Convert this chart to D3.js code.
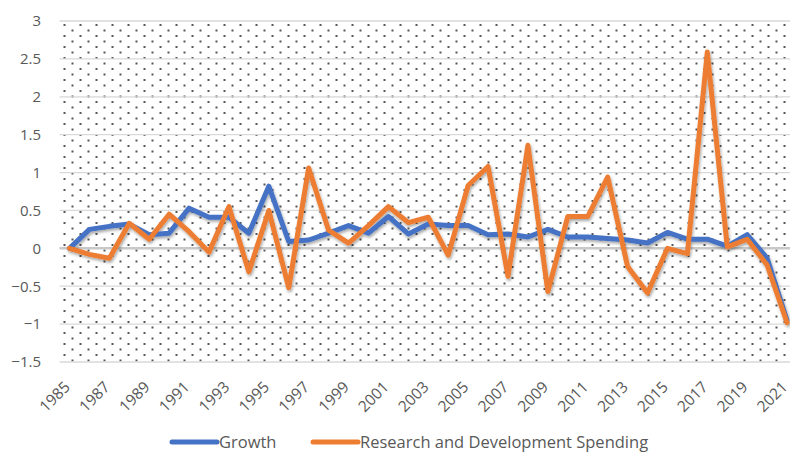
<!DOCTYPE html>
<html>
<head>
<meta charset="utf-8">
<script src="https://cdn.jsdelivr.net/npm/d3@7"></script>
<style>
  body { margin: 0; background: #fff; }
  svg { display: block; font-family: "Open Sans", sans-serif; }
</style>
</head>
<body>
<svg id="chart" width="790" height="459"></svg>
<script>
"use strict";

const years = d3.range(1985, 2022);
const growth = [0, 0.25, 0.29, 0.32, 0.18, 0.2, 0.53, 0.41, 0.41, 0.2,
    0.82, 0.09, 0.11, 0.2, 0.3, 0.2, 0.42, 0.19, 0.32, 0.3,
    0.3, 0.18, 0.19, 0.15, 0.25, 0.15, 0.15, 0.13, 0.11, 0.07,
    0.21, 0.12, 0.12, 0.03, 0.18, -0.13, -0.95];
const rdSpending = [0, -0.08, -0.13, 0.33, 0.12, 0.45, 0.22, -0.05, 0.55, -0.31,
    0.5, -0.52, 1.06, 0.24, 0.07, 0.3, 0.55, 0.34, 0.41, -0.09,
    0.83, 1.08, -0.37, 1.36, -0.57, 0.42, 0.42, 0.94, -0.24, -0.59,
    0, -0.07, 2.59, 0.02, 0.12, -0.22, -0.98];
const yTicks = [-1.5, -1, -0.5, 0, 0.5, 1, 1.5, 2, 2.5, 3];
const seriesNames = ["Growth", "Research and Development Spending"];
const colors = ["#4472C4", "#ED7D31"];

const svg = d3.select("#chart");
const plotLeft = 59.5, plotRight = 797, plotTop = 21, plotBottom = 362;

const x = d3.scalePoint().domain(years).range([plotLeft, plotRight]).padding(0.5);
const y = d3.scaleLinear().domain([-1.5, 3]).range([plotBottom, plotTop]);

const defs = svg.append("defs");
// dotted fill of the plot area
const pat = defs.append("pattern")
    .attr("id", "dots")
    .attr("patternUnits", "userSpaceOnUse")
    .attr("x", plotLeft).attr("y", plotTop)
    .attr("width", 16).attr("height", 11);
pat.append("rect").attr("x", 4).attr("y", 3).attr("width", 2).attr("height", 2).attr("fill", "#555");
pat.append("rect").attr("x", 12).attr("y", 8.5).attr("width", 2).attr("height", 2).attr("fill", "#555");

defs.append("filter")
    .attr("id", "shadow")
    .attr("x", "-10%").attr("y", "-10%").attr("width", "120%").attr("height", "120%")
  .append("feDropShadow")
    .attr("dx", 1).attr("dy", 2)
    .attr("stdDeviation", 1.5)
    .attr("flood-color", "#000")
    .attr("flood-opacity", 0.35);

svg.append("rect")
    .attr("x", plotLeft).attr("y", plotTop)
    .attr("width", plotRight - plotLeft).attr("height", plotBottom - plotTop)
    .attr("fill", "url(#dots)");

// gridlines
svg.append("g")
    .selectAll("line")
    .data(yTicks)
    .enter().append("line")
        .attr("x1", plotLeft).attr("x2", plotRight)
        .attr("y1", d => y(d)).attr("y2", d => y(d))
        .attr("stroke", d => d === 0 ? "#c8c8c8" : "#d9d9d9")
        .attr("stroke-width", d => d === 0 ? 2.5 : 1.3);

// y axis labels
const yAxis = svg.append("g")
    .attr("transform", "translate(41,0)")
    .call(d3.axisLeft(y).tickValues(yTicks).tickSize(0).tickPadding(0)
        .tickFormat(d => d3.format("")(d).replace("-", "\u2212")));
yAxis.select(".domain").remove();
yAxis.selectAll("text")
    .attr("fill", "#595959")
    .style("font-size", "15px")
    .style("font-family", "Open Sans, sans-serif");

// x axis labels, every second year
const xAxis = svg.append("g")
    .attr("transform", "translate(0," + plotBottom + ")")
    .call(d3.axisBottom(x).tickValues(years.filter((d, i) => i % 2 === 0)).tickSize(0));
xAxis.select(".domain").remove();
xAxis.selectAll("text")
    .attr("fill", "#595959")
    .style("font-size", "15.5px")
    .style("font-family", "Open Sans, sans-serif")
    .attr("text-anchor", "end")
    .attr("dy", null)
    .attr("y", 0)
    .attr("transform", "translate(1,26) rotate(-45)");

// lines
const line = d3.line()
    .x((d, i) => x(years[i]))
    .y(d => y(d));

svg.append("g")
    .attr("filter", "url(#shadow)")
    .selectAll("path")
    .data([growth, rdSpending])
    .enter().append("path")
        .attr("d", line)
        .attr("fill", "none")
        .attr("stroke", (d, i) => colors[i])
        .attr("stroke-width", 5)
        .attr("stroke-linejoin", "round")
        .attr("stroke-linecap", "round");

// legend
const legendX = [172, 313];
const legend = svg.append("g")
    .selectAll("g")
    .data(seriesNames)
    .enter().append("g")
        .attr("transform", (d, i) => "translate(" + legendX[i] + ",442)");
legend.append("line")
    .attr("x1", 0).attr("x2", 45)
    .attr("stroke", (d, i) => colors[i])
    .attr("stroke-width", 5)
    .attr("stroke-linecap", "round");
legend.append("text")
    .attr("x", 47)
    .attr("dy", "0.35em")
    .attr("fill", "#595959")
    .style("font-size", "16.5px")
    .text(d => d);
</script>
</body>
</html>
